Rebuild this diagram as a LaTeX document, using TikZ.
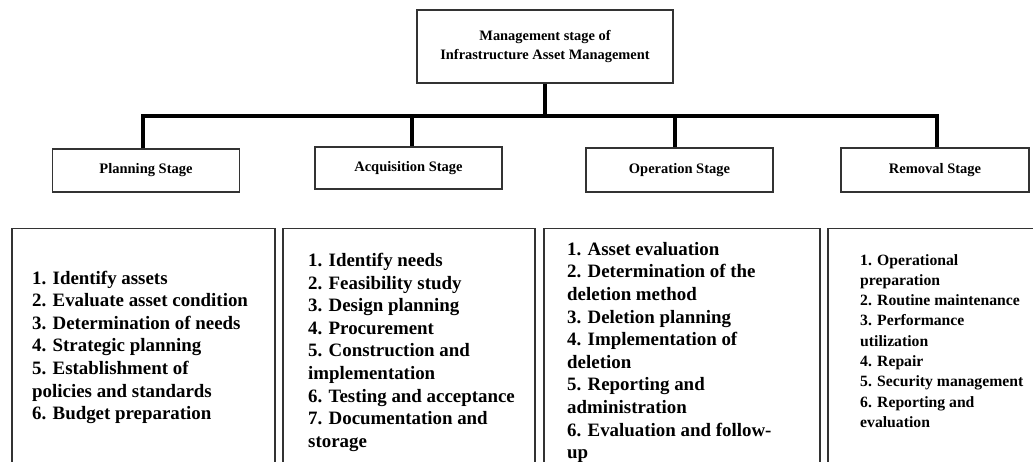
\documentclass[tikz,border=0pt]{standalone}
\usepackage{fontspec}
\setmainfont{Liberation Serif}
\begin{document}
\begin{tikzpicture}[x=1pt,y=-1pt,
  box/.style={draw=black!80, line width=1.4pt, fill=white, inner sep=0pt},
  topbox/.style={box, minimum width=256pt, minimum height=73pt, align=center,
    font=\bfseries\fontsize{14.4}{19}\selectfont},
  stagebox/.style={box, minimum width=187pt, minimum height=43pt,
    font=\bfseries\fontsize{14.5}{17}\selectfont},
  listbox/.style={box, minimum height=280pt},
  listtext/.style={anchor=north west, inner sep=0pt, align=left,
    font=\bfseries\fontsize{18.9}{22.6}\selectfont},
  smalllist/.style={anchor=north west, inner sep=0pt, align=left,
    font=\bfseries\fontsize{15.7}{20.3}\selectfont},
  conn/.style={line width=4.5pt, black, line join=miter}
]
\path[use as bounding box] (0,0) rectangle (1033,462);
\clip (0,0) rectangle (1033,462);
\fill[white] (0,0) rectangle (1033,462);

% top
\node[topbox] (top) at (545,46.5) {Management stage of\\Infrastructure Asset Management};

% stages
\node[stagebox] (plan) at (146,170.5) {Planning Stage};
\node[stagebox, minimum height=42pt] (acq) at (408.5,168) {Acquisition Stage};
\node[stagebox, minimum height=44pt] (oper) at (679.5,170) {Operation Stage};
\node[stagebox, minimum width=188pt, minimum height=44pt] (rem) at (935,170) {Removal Stage};

\coordinate (bar) at (0,116);

% connectors
\draw[conn] (top.south) -- (top.south |- bar);
\draw[conn] ([xshift=-3pt]plan.north) |- ([xshift=2pt]rem.north |- bar) -- ([xshift=2pt]rem.north);
\draw[conn] ([xshift=3.5pt]acq.north |- bar) -- ([xshift=3.5pt]acq.north);
\draw[conn] ([xshift=-4.5pt]oper.north |- bar) -- ([xshift=-4.5pt]oper.north);

% list boxes
\node[listbox, minimum width=263pt, anchor=north] (planbox) at (143.5,228) {};
\node[listbox, minimum width=252pt, anchor=north] (acqbox) at (409,228) {};
\node[listbox, minimum width=276pt, anchor=north] (operbox) at (682,228) {};
\node[listbox, minimum width=212pt, anchor=north] (rembox) at (934,228) {};

% list texts
\node[listtext] (plantext) at (32,270.5) {1. Identify assets\\2. Evaluate asset condition\\3. Determination of needs\\4. Strategic planning\\5. Establishment of\\policies and standards\\6. Budget preparation};
\node[listtext] (acqtext) at (308,253) {1. Identify needs\\2. Feasibility study\\3. Design planning\\4. Procurement\\5. Construction and\\implementation\\6. Testing and acceptance\\7. Documentation and\\storage};
\node[listtext] (opertext) at (567,242) {1. Asset evaluation\\2. Determination of the\\deletion method\\3. Deletion planning\\4. Implementation of\\deletion\\5. Reporting and\\administration\\6. Evaluation and follow-\\up};
\node[smalllist] (remtext) at (860,254) {1. Operational\\preparation\\2. Routine maintenance\\3. Performance\\utilization\\4. Repair\\5. Security management\\6. Reporting and\\evaluation};
\end{tikzpicture}
\end{document}
